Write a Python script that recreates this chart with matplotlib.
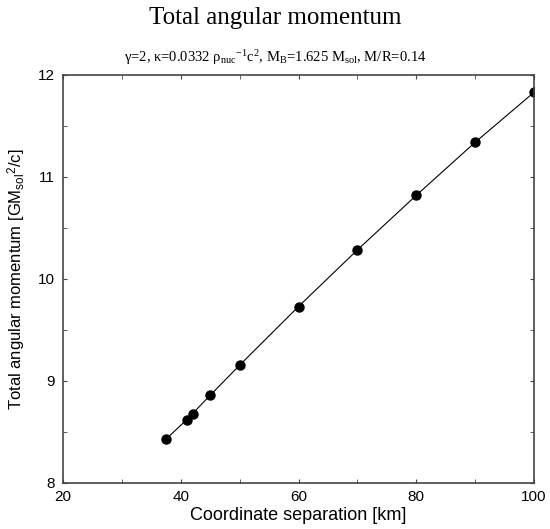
import matplotlib
matplotlib.use('Agg')
import matplotlib.pyplot as plt
from matplotlib.ticker import MultipleLocator

# data
separation = [37.5, 41.0, 42.0, 45.0, 50.0, 60.0, 70.0, 80.0, 90.0, 100.0]
ang_mom = [8.43, 8.62, 8.68, 8.86, 9.155, 9.73, 10.285, 10.82, 11.34, 11.83]

plt.rcParams['mathtext.fontset'] = 'custom'
plt.rcParams['mathtext.rm'] = 'Liberation Serif'
plt.rcParams['mathtext.it'] = 'Liberation Serif:italic'
plt.rcParams['mathtext.sf'] = 'Liberation Sans'
plt.rcParams['font.family'] = 'Liberation Sans'

fig = plt.figure(figsize=(5.50, 5.29), dpi=100)
ax = fig.add_axes([63/550, 1-483/529, (534-63)/550, (483-75)/529])

ax.plot(separation, ang_mom, color='black', lw=0.8, marker='o', ms=6.5)

ax.set_xlim(20, 100)
ax.set_ylim(8, 12)
ax.xaxis.set_major_locator(MultipleLocator(20))
ax.xaxis.set_minor_locator(MultipleLocator(10))
ax.yaxis.set_major_locator(MultipleLocator(1))
ax.yaxis.set_minor_locator(MultipleLocator(0.5))
ax.tick_params(which='both', direction='in', top=True, right=True, labelsize=11,
               length=3, color='#444444')
ax.tick_params(axis='x', pad=5)
ax.tick_params(axis='y', pad=6)
for s in ax.spines.values():
    s.set_color('#444444')
    s.set_linewidth(1.2)

ax.set_xlabel('Coordinate separation [km]', fontsize=13, labelpad=2)
ax.set_ylabel(r'Total angular momentum [GM$_{\mathsf{sol}}$$^{\mathsf{2}}$/c]',
              fontsize=12, labelpad=7)

fig.text(0.5, 1-18/529, 'Total angular momentum', ha='center', va='center',
         family='Liberation Serif', fontsize=18)
fig.text(0.5, 1-58/529,
         r'γ=2, κ=0.0332 ρ$_{\rm nuc}$$^{-1}$c$^{2}$, M$_{\rm B}$=1.625 M$_{\rm sol}$, M/R=0.14',
         ha='center', va='center', family='Liberation Serif', fontsize=10.5)

fig.savefig('out.png', dpi=100)
